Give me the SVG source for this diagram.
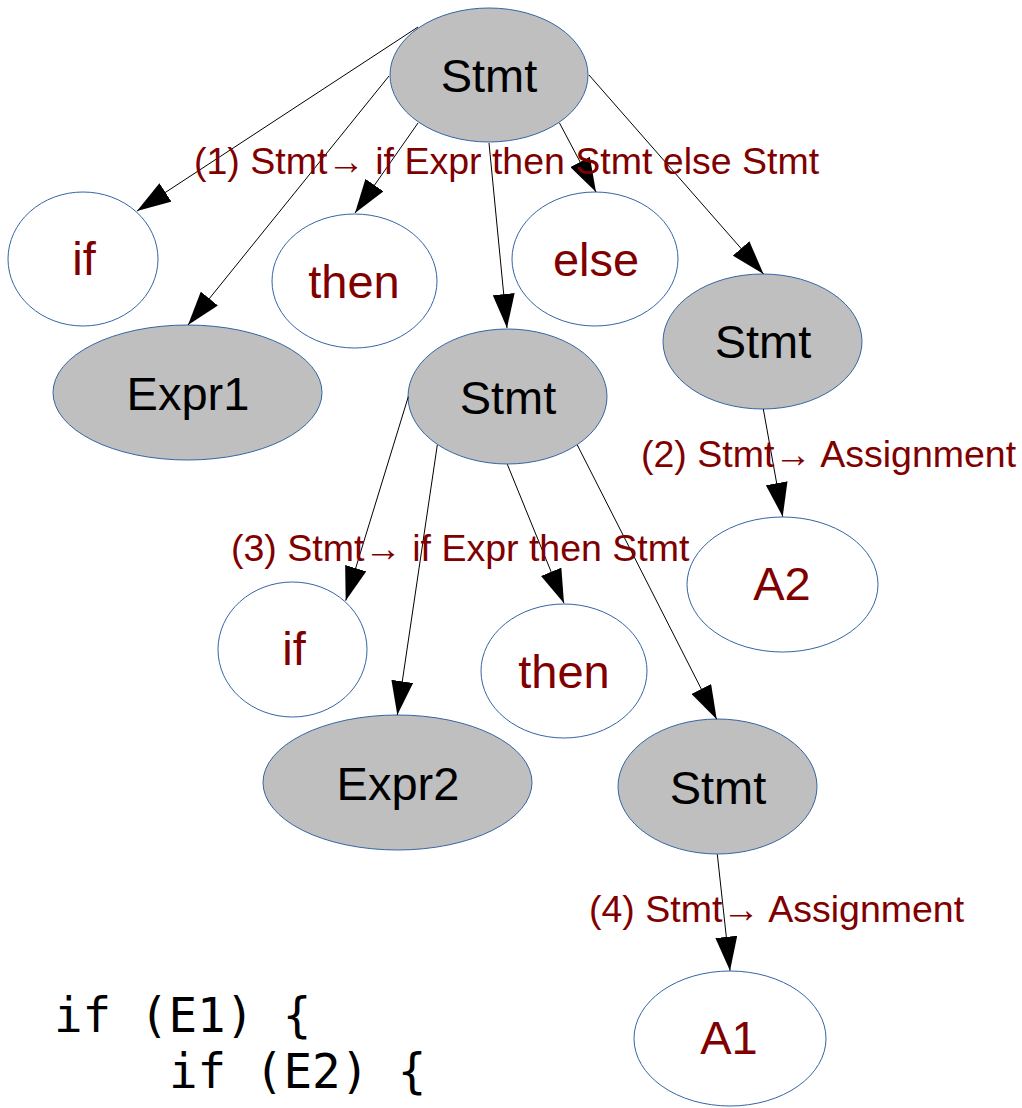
<svg xmlns="http://www.w3.org/2000/svg" width="1022" height="1108" viewBox="0 0 1022 1108">
  <style>
    .nt { fill: #bfbfbf; stroke: #3465a4; stroke-width: 1; }
    .t { fill: #ffffff; stroke: #3465a4; stroke-width: 1; }
    .lbl { font-family: "Liberation Sans", Arial, sans-serif; font-size: 47px; text-anchor: middle; }
    .lbl-nt { fill: #000000; }
    .lbl-t { fill: #800000; }
    .edge { stroke: #000000; stroke-width: 1; fill: none; marker-end: url(#arrow); }
    .rule { font-family: "Liberation Sans", Arial, sans-serif; font-size: 37.5px; fill: #800000; }
    .code { font-family: "DejaVu Sans Mono", "Liberation Mono", monospace; font-size: 47.5px; fill: #000000; }
  </style>
  <defs>
    <marker id="arrow" markerUnits="userSpaceOnUse" markerWidth="34" markerHeight="22" refX="34" refY="11" orient="auto" viewBox="0 0 34 22">
      <path d="M0,0 L34,11 L0,22 z" fill="#000000"/>
    </marker>
  </defs>

  <rect width="1022" height="1108" fill="#ffffff"/>

  <!-- nodes -->
  <g id="stmt-root">
    <ellipse class="nt" cx="489" cy="75" rx="99" ry="67"/>
    <text class="lbl lbl-nt" x="489" y="92">Stmt</text>
  </g>
  <g id="if-1">
    <ellipse class="t" cx="83" cy="259" rx="75" ry="67"/>
    <text class="lbl lbl-t" x="84" y="275">if</text>
  </g>
  <g id="then-1">
    <ellipse class="t" cx="354.5" cy="281" rx="82.5" ry="67"/>
    <text class="lbl lbl-t" x="354" y="298">then</text>
  </g>
  <g id="else-1">
    <ellipse class="t" cx="595" cy="259" rx="83" ry="67"/>
    <text class="lbl lbl-t" x="596" y="276">else</text>
  </g>
  <g id="expr1">
    <ellipse class="nt" cx="187.5" cy="392.5" rx="134.5" ry="67.5"/>
    <text class="lbl lbl-nt" x="188" y="410">Expr1</text>
  </g>
  <g id="stmt-else">
    <ellipse class="nt" cx="762.5" cy="341.5" rx="99.5" ry="67.5"/>
    <text class="lbl lbl-nt" x="763" y="358">Stmt</text>
  </g>
  <g id="stmt-then">
    <ellipse class="nt" cx="507.5" cy="396.5" rx="99.5" ry="67.5"/>
    <text class="lbl lbl-nt" x="508" y="414">Stmt</text>
  </g>
  <g id="a2">
    <ellipse class="t" cx="782.5" cy="584.5" rx="95.5" ry="67.5"/>
    <text class="lbl lbl-t" x="782" y="600">A2</text>
  </g>
  <g id="if-2">
    <ellipse class="t" cx="292.5" cy="649.5" rx="74.5" ry="67.5"/>
    <text class="lbl lbl-t" x="294" y="665">if</text>
  </g>
  <g id="then-2">
    <ellipse class="t" cx="564" cy="671" rx="83" ry="67"/>
    <text class="lbl lbl-t" x="564" y="688">then</text>
  </g>
  <g id="expr2">
    <ellipse class="nt" cx="397.5" cy="782.5" rx="134.5" ry="67.5"/>
    <text class="lbl lbl-nt" x="398" y="800">Expr2</text>
  </g>
  <g id="stmt-inner">
    <ellipse class="nt" cx="717.5" cy="786.5" rx="99.5" ry="67.5"/>
    <text class="lbl lbl-nt" x="718" y="804">Stmt</text>
  </g>
  <g id="a1">
    <ellipse class="t" cx="730" cy="1038.5" rx="96" ry="67.5"/>
    <text class="lbl lbl-t" x="729" y="1054">A1</text>
  </g>

  <!-- connectors -->
  <g id="edges">
    <line class="edge" x1="418" y1="27" x2="137" y2="211"/>
    <line class="edge" x1="389" y1="76" x2="188" y2="325"/>
    <line class="edge" x1="418" y1="123" x2="355" y2="213"/>
    <line class="edge" x1="489" y1="143" x2="507" y2="328"/>
    <line class="edge" x1="559.5" y1="123" x2="596" y2="192"/>
    <line class="edge" x1="589" y1="75" x2="763.5" y2="274"/>
    <line class="edge" x1="408.3" y1="396.7" x2="345.7" y2="600.7"/>
    <line class="edge" x1="437.3" y1="445" x2="397.3" y2="715"/>
    <line class="edge" x1="507.3" y1="464.3" x2="564" y2="603.3"/>
    <line class="edge" x1="577.3" y1="445" x2="716.7" y2="719.3"/>
    <line class="edge" x1="763.3" y1="409" x2="782.7" y2="516.7"/>
    <line class="edge" x1="717.3" y1="854.3" x2="730" y2="970.7"/>
  </g>

  <!-- production rule labels -->
  <g id="rules">
    <text class="rule" x="194" y="174">(1) Stmt→ if Expr then Stmt else Stmt</text>
    <text class="rule" x="641" y="467">(2) Stmt→ Assignment</text>
    <text class="rule" x="231" y="561">(3) Stmt→ if Expr then Stmt</text>
    <text class="rule" x="589" y="922">(4) Stmt→ Assignment</text>
  </g>

  <!-- source snippet -->
  <g id="code">
    <text class="code" x="54" y="1032">if (E1) {</text>
    <text class="code" x="169" y="1088">if (E2) {</text>
  </g>
</svg>
